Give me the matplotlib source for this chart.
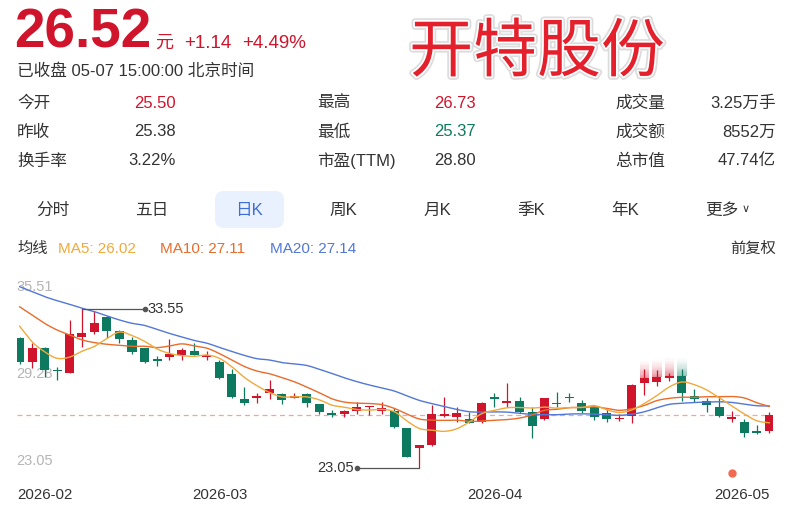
import numpy as np
import matplotlib
matplotlib.use("Agg")
import matplotlib.pyplot as plt
from matplotlib.patches import FancyBboxPatch
import matplotlib.patheffects as pe

plt.rcParams['font.family'] = ['Liberation Sans', 'Noto Sans CJK SC', 'DejaVu Sans']

# ---------------- data ----------------
opens = [31.63, 30.08, 30.96, 29.55, 29.35, 31.69, 32.07, 33.02, 32.11, 31.52,
         30.96, 30.28, 30.41, 30.52, 30.79, 30.37, 30.08, 29.24, 27.59, 27.69,
         27.98, 27.94, 27.65, 27.94, 27.27, 26.66, 26.61, 26.83, 27.05, 26.83,
         26.83, 25.66, 24.38, 24.55, 26.50, 26.43, 26.26, 26.10, 27.72, 27.32,
         27.47, 26.72, 26.26, 27.36, 27.76, 27.32, 27.05, 26.66, 26.26, 26.50,
         28.64, 28.71, 28.98, 29.13, 27.80, 27.47, 27.09, 26.26, 26.10, 25.48,
         25.50]
highs = [31.70, 31.30, 31.05, 29.74, 32.84, 33.55, 33.46, 33.10, 32.18, 31.69,
         31.00, 30.45, 31.56, 31.00, 31.30, 30.80, 30.20, 29.57, 28.38, 27.98,
         28.86, 27.98, 27.98, 28.00, 27.30, 26.88, 26.85, 27.43, 27.14, 27.40,
         27.03, 25.66, 24.55, 27.21, 27.76, 27.09, 26.76, 27.40, 28.02, 28.64,
         27.76, 27.09, 27.70, 28.09, 28.02, 27.54, 27.14, 26.92, 26.61, 28.58,
         29.60, 29.50, 29.30, 29.60, 28.27, 27.65, 27.82, 26.81, 26.26, 25.88,
         26.73]
lows = [29.90, 29.64, 29.06, 28.84, 29.30, 31.03, 31.89, 31.63, 31.30, 30.59,
        29.97, 29.81, 30.19, 30.19, 30.50, 30.19, 28.95, 27.70, 27.19, 27.32,
        27.58, 27.27, 27.65, 27.09, 26.61, 26.39, 26.43, 26.61, 26.54, 26.61,
        25.70, 23.74, 23.05, 24.50, 26.43, 26.06, 26.00, 26.03, 27.09, 27.09,
        26.70, 25.00, 26.20, 27.09, 27.43, 26.70, 26.21, 26.08, 26.17, 26.03,
        27.90, 28.47, 28.80, 27.49, 27.43, 26.76, 26.43, 26.06, 25.11, 25.26,
        25.37]
closes = [30.04, 31.00, 29.51, 29.45, 31.89, 32.00, 32.62, 32.11, 31.58, 30.74,
          30.08, 30.12, 30.59, 30.85, 30.52, 30.50, 29.02, 27.76, 27.36, 27.76,
          28.29, 27.54, 27.80, 27.32, 26.76, 26.56, 26.83, 27.05, 27.14, 26.99,
          25.77, 23.78, 24.55, 26.59, 26.61, 26.66, 26.03, 27.32, 27.62, 27.47,
          26.76, 25.83, 27.65, 27.27, 27.67, 26.81, 26.43, 26.26, 26.37, 28.53,
          28.98, 29.04, 29.13, 27.97, 27.62, 27.19, 26.46, 26.43, 25.33, 25.38,
          26.52]
ma5_head = [32.44, 31.40, 30.74, 30.30]
ma10_head = [33.72, 33.17, 32.62, 32.18, 31.85, 31.52, 31.34, 31.23, 31.16]
ma20_head = [35.05, 34.72, 34.39, 34.12, 33.88, 33.62, 33.39, 33.11, 32.84, 32.62,
             32.48, 32.21, 31.95, 31.71, 31.48, 31.30, 31.02, 30.75, 30.49]
month_idx = [2, 16, 38, 59]
month_labels = ["2026-02", "2026-03", "2026-04", "2026-05"]
event_idx = [57]
axis_top, axis_mid, axis_bot = 35.51, 29.28, 23.05

price = "26.52"
change = "+1.14"
change_pct = "+4.49%"
status = "已收盘 05-07 15:00:00 北京时间"
title = "开特股份"
stats = [
    [("今开", "25.50", "up"), ("最高", "26.73", "up"), ("成交量", "3.25万手", None)],
    [("昨收", "25.38", None), ("最低", "25.37", "down"), ("成交额", "8552万", None)],
    [("换手率", "3.22%", None), ("市盈(TTM)", "28.80", None), ("总市值", "47.74亿", None)],
]
tabs = ["分时", "五日", "日K", "周K", "月K", "季K", "年K", "更多"]
active_tab = "日K"

# ---------------- styles ----------------
RED = "#d0142c"
GREEN = "#0d7a5f"
DARK = "#333333"
C5, C10, C20 = "#f2a93b", "#ea6b2a", "#5277d8"
W, H = 789, 523

o = np.array(opens); h = np.array(highs); l = np.array(lows); c = np.array(closes)
n = len(c)
idx = np.arange(n)


def ma(vals, win, head):
    out = np.full(len(vals), np.nan)
    for i in range(len(vals)):
        if i < len(head):
            out[i] = head[i]
        else:
            out[i] = np.mean(vals[i - win + 1:i + 1])
    return out


ma5 = ma(c, 5, ma5_head)
ma10 = ma(c, 10, ma10_head)
ma20 = ma(c, 20, ma20_head)


def smooth(x, y, k=10):
    P = np.column_stack([x, y]).astype(float)
    P = np.vstack([P[0], P, P[-1]])
    pts = []
    t = np.linspace(0, 1, k, endpoint=False)[:, None]
    for i in range(1, len(P) - 2):
        p0, p1, p2, p3 = P[i - 1], P[i], P[i + 1], P[i + 2]
        seg = 0.5 * ((2 * p1) + (-p0 + p2) * t + (2 * p0 - 5 * p1 + 4 * p2 - p3) * t ** 2
                     + (-p0 + 3 * p1 - 3 * p2 + p3) * t ** 3)
        pts.append(seg)
    pts.append(P[-2][None, :])
    pts = np.vstack(pts)
    return pts[:, 0], pts[:, 1]


fig = plt.figure(figsize=(W / 100, H / 100), dpi=100)
fig.patch.set_facecolor("white")


def ft(x, y, s, **kw):
    return fig.text(x / W, 1 - y / H, s, **kw)


# ---------------- header ----------------
ft(14, 47, price, fontsize=39.5, fontweight="bold", color=RED, va="baseline", ha="left")
ft(155, 48, "元", fontsize=13, color=RED, va="baseline")
ft(184, 48, change, fontsize=13.5, color=RED, va="baseline")
ft(242, 48, change_pct, fontsize=13.5, color=RED, va="baseline")
ft(17, 76, status, fontsize=12, color=DARK, va="baseline")
ft(537, 53, title, fontsize=46, color="#e3202b", ha="center", va="center",
   family=["Noto Sans CJK SC"],
   path_effects=[pe.Stroke(linewidth=5, foreground="#dcdcdc"),
                 pe.Stroke(linewidth=2.5, foreground="white"), pe.Normal()])

col_label_x = [17, 317, 615]
col_val_x = [176, 476, 776]
row_y = [103, 132, 161]
for r, row in enumerate(stats):
    for ci, (lab, val, kind) in enumerate(row):
        ft(col_label_x[ci], row_y[r], lab, fontsize=12, color=DARK, va="center")
        col = RED if kind == "up" else (GREEN if kind == "down" else DARK)
        ft(col_val_x[ci], row_y[r], val, fontsize=12, color=col, va="center", ha="right")

# tabs
tab_x = [53, 152, 249, 343, 437, 531, 625, 722]
for tx, tname in zip(tab_x, tabs):
    if tname == active_tab:
        box = FancyBboxPatch(((tx - 34) / 100, (H - 228) / 100), 0.69, 0.37,
                             boxstyle="round,pad=0,rounding_size=0.09",
                             transform=fig.dpi_scale_trans, facecolor="#e8f1fd",
                             edgecolor="none", zorder=0)
        fig.add_artist(box)
        ft(tx, 210, tname, fontsize=12, color="#3f6fd6", ha="center", va="center")
    else:
        ft(tx, 210, tname, fontsize=12, color=DARK, ha="center", va="center")
ft(746, 209, "∨", fontsize=8, color=DARK, ha="center", va="center", family=["DejaVu Sans"])

# MA legend
ft(17, 249, "均线", fontsize=11, color=DARK, va="center")
ft(58, 249, f"MA5: {ma5[-1]:.2f}", fontsize=11, color=C5, va="center")
ft(160, 249, f"MA10: {ma10[-1]:.2f}", fontsize=11, color=C10, va="center")
ft(270, 249, f"MA20: {ma20[-1]:.2f}", fontsize=11, color=C20, va="center")
ft(776, 249, "前复权", fontsize=11, color=DARK, va="center", ha="right")

# ---------------- chart ----------------
x_left_px, x_right_px = 16.7, 773.0
y_top_px, y_bot_px = 279.7, 467.7
ax = fig.add_axes([x_left_px / W, 1 - y_bot_px / H,
                   (x_right_px - x_left_px) / W, (y_bot_px - y_top_px) / H])
ax.set_xlim(-0.224, 60.28)
ax.set_ylim(axis_bot, axis_top)
ax.axis("off")

# y labels
lab_kw = dict(fontsize=10.5, color="#b5b5b5", zorder=1,
              transform=ax.get_yaxis_transform())
ax.text(0.0, axis_top, f"{axis_top:.2f}", va="top", ha="left", **lab_kw)
ax.text(0.0, axis_mid, f"{axis_mid:.2f}", va="center", ha="left", **lab_kw)
ax.text(0.0, axis_bot, f"{axis_bot:.2f}", va="bottom", ha="left", **lab_kw)

# last-close dashed line
ax.axhline(c[-1], color="#f2a4a4", lw=0.9, ls=(0, (4, 3)), zorder=2)

# candles
bw = 0.72
up = c >= o
cols = np.where(up, RED, GREEN)
ax.vlines(idx, l, h, colors=cols, lw=0.9, zorder=3)
bottoms = np.minimum(o, c)
heights = np.maximum(np.abs(c - o), 0.09)
ax.bar(idx, heights, bottom=bottoms, width=bw, color=cols, lw=0, zorder=3)

# faded blur above a few candles (screenshot artifact)
for i in [50, 51, 52, 53]:
    top = max(o[i], c[i])
    steps = 16
    for s in range(steps):
        y0 = top + 1.25 * s / steps
        ax.bar(i, 1.25 / steps, bottom=y0, width=bw * 1.05, color=cols[i],
               alpha=0.45 * (1 - s / steps) ** 1.6, lw=0, zorder=2.5)

# MA lines
for series, colr in [(ma20, C20), (ma10, C10), (ma5, C5)]:
    sx, sy = smooth(idx, series)
    ax.plot(sx, sy, color=colr, lw=1.0, zorder=4, solid_capstyle="round")

# high / low annotations
ih = int(np.argmax(h))
il = int(np.argmin(l))
ax.plot([ih, ih + 5], [h[ih], h[ih]], color="#555555", lw=0.9, zorder=5)
ax.plot([ih + 5], [h[ih]], "o", ms=3, color="#555555", zorder=5)
ax.text(ih + 5.25, h[ih], f"{h[ih]:.2f}", fontsize=10.5, color=DARK, va="center", ha="left")
ax.plot([il - 5, il], [l[il], l[il]], color="#555555", lw=0.9, zorder=5, clip_on=False)
ax.plot([il - 5], [l[il]], "o", ms=3, color="#555555", zorder=5, clip_on=False)
ax.text(il - 5.25, l[il], f"{l[il]:.2f}", fontsize=10.5, color=DARK, va="center", ha="right")

# event markers
for e in event_idx:
    ax.plot([e], [-0.028], "o", ms=5, color="#ef6a50", transform=ax.get_xaxis_transform(),
            clip_on=False, zorder=5)

# month labels
xt = ax.get_xaxis_transform()
for k, (mi, ml) in enumerate(zip(month_idx, month_labels)):
    if k == len(month_idx) - 1:
        ax.text(60.04, -0.145, ml, fontsize=10.8, color=DARK, ha="right", va="center", transform=xt)
    else:
        ax.text(mi, -0.145, ml, fontsize=10.8, color=DARK, ha="center", va="center", transform=xt)

fig.savefig("out.png", dpi=100)
